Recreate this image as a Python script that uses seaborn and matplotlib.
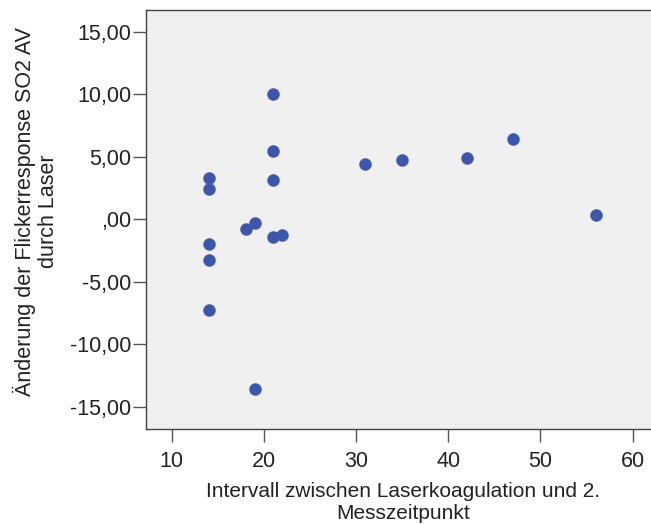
import matplotlib
matplotlib.use("Agg")
import matplotlib.pyplot as plt
import seaborn as sns
import pandas as pd

interval = [14, 14, 14, 14, 14, 18, 19, 19, 21, 21, 21, 21, 22, 31, 35, 42, 47, 56]
change = [3.33, 2.45, -1.95, -3.23, -7.28, -0.75, -0.27, -13.58, 10.05, 5.49, 3.12, -1.39, -1.26, 4.40, 4.74, 4.88, 6.42, 0.34]
x_ticks = [10, 20, 30, 40, 50, 60]
y_ticks = [15, 10, 5, 0, -5, -10, -15]
y_tick_labels = ["15,00", "10,00", "5,00", ",00", "-5,00", "-10,00", "-15,00"]

df = pd.DataFrame({"interval": interval, "change": change})

sns.set_style("white")
plt.rcParams["font.family"] = ["Liberation Sans", "DejaVu Sans"]

fig = plt.figure(figsize=(6.51, 5.24), dpi=100)
ax = fig.add_axes([146/651, 1 - 429/524, 1 - 146/651, (429 - 10)/524])
ax.set_facecolor("#F0F0F0")

sns.scatterplot(data=df, x="interval", y="change", ax=ax, color="#3D56AC",
                s=75, edgecolor="#3D56AC", linewidth=0.3, zorder=3)

ax.set_xlim(7.2, 62.0)
ax.set_ylim(-16.78, 16.74)
ax.set_xticks(x_ticks)
ax.set_xticklabels([str(v) for v in x_ticks])
ax.set_yticks(y_ticks)
ax.set_yticklabels(y_tick_labels)

ax.tick_params(axis="both", which="major", bottom=True, left=True, length=9.5,
               width=1.0, color="#555555", labelsize=15.5, labelcolor="#222222",
               direction="out", pad=1)
ax.tick_params(axis="x", pad=6)

for side, sp in ax.spines.items():
    sp.set_visible(True)
    sp.set_color("#444444")
    sp.set_linewidth(1.0)
ax.spines["right"].set_visible(False)

ax.set_xlabel("Intervall zwischen Laserkoagulation und 2.\nMesszeitpunkt",
              fontsize=15, color="#222222", linespacing=1.2)
ax.set_ylabel("Änderung der Flickerresponse SO2 AV\ndurch Laser",
              fontsize=15.5, color="#222222", linespacing=1.15)
ax.xaxis.set_label_coords((403 - 146) / 505, (429 - 482) / 419)
ax.yaxis.set_label_coords((59 - 146) / 505, 0.52)

fig.savefig("out.png", dpi=100)
